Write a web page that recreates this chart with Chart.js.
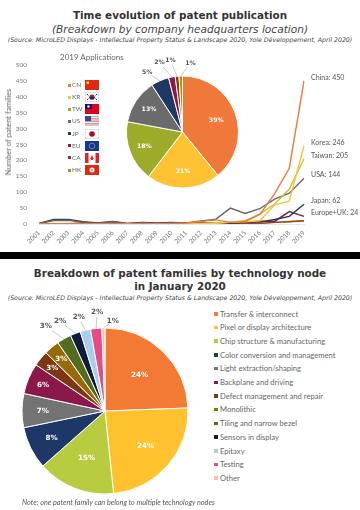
<!DOCTYPE html>
<html>
<head>
<meta charset="utf-8">
<title>Patent charts</title>
<script src="https://cdn.jsdelivr.net/npm/chart.js@4"></script>
<style>
html,body{margin:0;padding:0;background:#fff;}
#page{position:relative;width:360px;height:510px;overflow:hidden;font-family:Lato,sans-serif;color:#555;}
#page canvas{position:absolute;}
.t{position:absolute;left:0;width:360px;text-align:center;white-space:nowrap;font-family:"DejaVu Sans",sans-serif;line-height:14px;}
.main{font-weight:bold;font-size:10.4px;color:#333;}
.sub{font-style:italic;font-size:10.6px;color:#444;}
.src{font-style:italic;font-size:6.25px;color:#444;line-height:8px;}
#band{position:absolute;left:0;top:252px;width:360px;height:6.5px;background:#000;}
.lab{position:absolute;white-space:nowrap;line-height:10px;}
.dot{position:absolute;width:3px;height:3px;}
svg{position:absolute;}
#yTitle{position:absolute;left:8px;top:132px;transform:translate(-50%,-50%) rotate(-90deg);font-size:7.6px;color:#666;white-space:nowrap;}
</style>
</head>
<body>
<div id="page">
  <div class="t main" style="top:8px">Time evolution of patent publication</div>
  <div class="t sub" style="top:22px">(Breakdown by company headquarters location)</div>
  <div class="t src" style="top:36px">(Source: MicroLED Displays - Intellectual Property Status &amp; Landscape 2020, Yole Développement, April 2020)</div>
  <canvas id="lineas" style="left:0;top:50px"></canvas>
  <div id="yTitle">Number of patent families</div>
  <canvas id="pieFlags" style="left:112px;top:50px"></canvas>
  <div class="lab" style="left:60px;top:52px;font-size:8px;color:#666">2019 Applications</div>
  <div id="flagLegend"></div>
  <div id="band"></div>
  <div class="t main" style="top:266px">Breakdown of patent families by technology node</div>
  <div class="t main" style="top:279px">in January 2020</div>
  <div class="t src" style="top:294px">(Source: MicroLED Displays - Intellectual Property Status &amp; Landscape 2020, Yole Développement, April 2020)</div>
  <canvas id="pieNodes" style="left:0;top:305px"></canvas>
  <div id="nodeLegend"></div>
  <div class="lab" style="left:22px;top:498px;font-size:7.25px;font-style:italic;color:#555">Note: one patent family can belong to multiple technology nodes</div>
</div>
<script>
// datos del grafico de lineas
const years = ['2001','2002','2003','2004','2005','2006','2007','2008','2009','2010','2011','2012','2013','2014','2015','2016','2017','2018','2019'];
const china  = [0,1,1,1,0,1,0,1,0,1,3,8,13,5,8,30,95,175,450];
const korea  = [0,0,1,0,0,1,0,0,0,1,1,1,2,5,7,10,60,72,246];
const taiwan = [0,1,1,0,0,0,0,0,0,1,1,2,3,6,10,32,62,110,205];
const usa    = [1,11,12,5,2,7,1,4,2,4,3,10,15,50,33,48,78,97,144];
const japan  = [2,14,14,7,3,8,2,5,3,5,3,3,2,3,5,6,14,24,62];
const europe = [0,1,1,3,1,1,0,1,0,1,2,2,1,4,5,9,8,39,24];
const canada = [0,0,0,0,0,0,0,0,0,0,0,0,0,1,1,2,5,7,10];
const hongKong = [0,0,0,0,0,0,0,0,0,0,0,0,0,0,0,2,5,8,10];
const seriesNames = ['China','Korea','Taiwan','USA','Japan','Europe+UK','',''];
const yTicks = [0,50,100,150,200,250,300,350,400,450,500];

// pastel 2019
const countryCodes = ['CN','KR','TW','US','JP','EU','CA','HK'];
const shares2019 = [39.2,21.3,17.6,12.9,5.2,1.9,1.1,1.0];
const shareLabels = ['39%','21%','18%','13%','5%','2%','1%','1%'];

// pastel por nodo
const nodes = ['Transfer & interconnect','Pixel or display architecture','Chip structure & manufacturing','Color conversion and management','Light extraction/shaping','Backplane and driving','Defect management and repair','Monolithic','Tiling and narrow bezel','Sensors in display','Epitaxy','Testing','Other'];
const nodeShares = [24.4,23.9,15.1,8.3,6.6,6.0,3.0,3.0,2.8,2.0,2.0,2.2,0.6];
const nodeLabels = ['24%','24%','15%','8%','7%','6%','3%','3%','3%','2%','2%','2%','1%'];

const lineColors = ['#F0783A','#FFC233','#B5C93B','#666666','#1F3864','#8B1A4B','#A0451A','#BF8F00'];
const flagPieColors = ['#F0783A','#FFC233','#9CAB2A','#6B6B6B','#1F3864','#8B1A4B','#843C0C','#BF8F00'];
const nodeColors = ['#F27A35','#FFC12E','#B9CC3F','#1D3766','#737373','#8A1848','#7E3613','#966A0A','#556B1F','#111C3A','#A9CDEE','#E54B85','#F9C3A0'];

// sitio de cada etiqueta: [factor de radio] dentro, o [angulo, radio px] fuera con linea guia
const flagSpots = [[0.64],[0.7],[0.73],[0.72],[-30.7,69],[-18.4,73],[-9.5,73],[6.6,69.5]];
const nodeSpots = [[0.6],[0.65],[0.61],[0.72],[0.75],[0.81],[0.82],[0.82],[-35,103],[-26.6,100],[-15.6,97],[-4.6,99],[5,90]];

const allSeries = [china,korea,taiwan,usa,japan,europe,canada,hongKong];

const endLabels = {
  id:'endLabels',
  afterDatasetsDraw(chart){
    const ctx = chart.ctx;
    ctx.save();
    ctx.font = '7px Lato';
    ctx.fillStyle = '#555';
    ctx.textBaseline = 'middle';
    chart.data.datasets.forEach((ds,i)=>{
      if(!seriesNames[i]) return;
      const pt = chart.getDatasetMeta(i).data[years.length-1];
      ctx.fillText(seriesNames[i]+': '+ds.data[years.length-1], pt.x+7, pt.y-3.5);
    });
    ctx.restore();
  }
};

// etiquetas de los pasteles
const pieLabels = {
  id:'pieLabels',
  afterDatasetsDraw(chart,args,opts){
    const ctx = chart.ctx;
    ctx.save();
    ctx.font = 'bold '+opts.size+'px "DejaVu Sans"';
    ctx.textAlign = 'center';
    ctx.textBaseline = 'middle';
    chart.getDatasetMeta(0).data.forEach((arc,i)=>{
      const spot = opts.spots[i];
      const mid = (arc.startAngle+arc.endAngle)/2;
      if(spot.length===1){
        ctx.fillStyle = '#fff';
        ctx.fillText(opts.texts[i], arc.x+Math.cos(mid)*arc.outerRadius*spot[0], arc.y+Math.sin(mid)*arc.outerRadius*spot[0]);
      }else{
        const a = (spot[0]-90)*Math.PI/180;
        const lx = arc.x+Math.cos(a)*spot[1];
        const ly = arc.y+Math.sin(a)*spot[1];
        const sx = arc.x+Math.cos(mid)*arc.outerRadius;
        const sy = arc.y+Math.sin(mid)*arc.outerRadius;
        ctx.strokeStyle = '#bbb';
        ctx.lineWidth = 0.8;
        ctx.beginPath();
        ctx.moveTo(sx,sy);
        ctx.lineTo(lx+(sx-lx)*0.3,ly+(sy-ly)*0.3);
        ctx.stroke();
        ctx.fillStyle = '#555';
        ctx.fillText(opts.texts[i],lx,ly);
      }
    });
    ctx.restore();
  }
};

function makeCanvas(id,w,h){
  const c = document.getElementById(id);
  c.width = w; c.height = h;
  c.style.width = w+'px'; c.style.height = h+'px';
  return c;
}

Chart.defaults.animation = false;
Chart.defaults.responsive = false;

new Chart(makeCanvas('lineas',360,202),{
  type:'line',
  data:{
    labels:years,
    datasets:allSeries.map((vals,i)=>({
      data:vals,
      borderColor:lineColors[i],
      borderWidth:1.4,
      pointRadius:0,
      tension:0
    }))
  },
  options:{
    layout:{padding:{top:15,right:56,left:0,bottom:0}},
    plugins:{legend:{display:false},tooltip:{enabled:false}},
    scales:{
      x:{
        offset:false,
        grid:{display:false},
        border:{color:'#e6e6e6'},
        afterFit(s){s.height=28;},
        ticks:{font:{family:'Lato',size:6.5},color:'#777',minRotation:45,maxRotation:45,autoSkip:false,padding:-3}
      },
      y:{
        min:0,max:500,
        grid:{display:false},
        border:{display:false},
        afterFit(s){s.width=39;},
        afterBuildTicks(s){s.ticks=yTicks.map(v=>({value:v}));},
        ticks:{font:{family:'Lato',size:6.5},color:'#777',padding:4}
      }
    }
  },
  plugins:[endLabels]
});

new Chart(makeCanvas('pieFlags',141,164),{
  type:'pie',
  data:{
    labels:countryCodes,
    datasets:[{data:shares2019,backgroundColor:flagPieColors,borderColor:'#fff',borderWidth:1}]
  },
  options:{
    radius:56,
    layout:{padding:0},
    plugins:{legend:{display:false},tooltip:{enabled:false},pieLabels:{spots:flagSpots,texts:shareLabels,size:6.2}}
  },
  plugins:[pieLabels]
});

new Chart(makeCanvas('pieNodes',210,212),{
  type:'pie',
  data:{
    labels:nodes,
    datasets:[{data:nodeShares,backgroundColor:nodeColors,borderColor:'#fff',borderWidth:1}]
  },
  options:{
    radius:83,
    plugins:{legend:{display:false},tooltip:{enabled:false},pieLabels:{spots:nodeSpots,texts:nodeLabels,size:7.2}}
  },
  plugins:[pieLabels]
});

// leyenda de banderas
const flagArt = {
  CN:'<rect width="14" height="10" fill="#DE2910"/><rect x="1.5" y="1.5" width="2.5" height="2.5" fill="#FFDE00"/>',
  KR:'<rect width="14" height="10" fill="#fff" stroke="#999" stroke-width=".6"/><circle cx="7" cy="5" r="2.6" fill="#C60C30"/><path d="M4.4 5a2.6 2.6 0 0 0 5.2 0z" fill="#003478"/><path d="M2 2l1.4 1.4M12 2l-1.4 1.4M2 8l1.4-1.4M12 8l-1.4-1.4" stroke="#222"/>',
  TW:'<rect width="14" height="10" fill="#E60013"/><rect width="7" height="5" fill="#12127F"/><circle cx="3.5" cy="2.5" r="1.2" fill="#fff"/>',
  US:'<rect width="14" height="10" fill="#C9A0A4"/><path d="M0 1.5h14M0 4h14M0 6.5h14M0 9h14" stroke="#eee" stroke-width=".9"/><rect width="6" height="5" fill="#3C4A80"/>',
  JP:'<rect width="14" height="10" fill="#fff" stroke="#999" stroke-width=".6"/><circle cx="7" cy="5" r="2.8" fill="#BC002D"/>',
  EU:'<rect width="14" height="10" fill="#12379A"/><circle cx="7" cy="5" r="2.8" fill="none" stroke="#C9B84A" stroke-width=".6"/>',
  CA:'<rect width="14" height="10" fill="#fff"/><rect width="3.5" height="10" fill="#E0202A"/><rect x="10.5" width="3.5" height="10" fill="#E0202A"/><path d="M7 2l1.6 3.4-.8 1.6h-1.6l-.8-1.6z" fill="#E0202A"/>',
  HK:'<rect width="14" height="10" fill="#DE2910"/><circle cx="7" cy="5" r="2.5" fill="#fff"/><circle cx="7" cy="5" r=".8" fill="#DE2910"/>'
};
let flagHtml = '';
countryCodes.forEach((code,i)=>{
  const y = 85+i*12.15;
  flagHtml += `<div class="dot" style="left:68px;top:${y-1.5}px;background:${flagPieColors[i]}"></div>`;
  flagHtml += `<div class="lab" style="left:72px;top:${y-5}px;font-size:6.5px;color:#666">${code}</div>`;
  flagHtml += `<svg style="left:85px;top:${y-5}px" width="14" height="10" viewBox="0 0 14 10">${flagArt[code]}</svg>`;
});
document.getElementById('flagLegend').innerHTML = flagHtml;

// leyenda de nodos
let nodeHtml = '';
nodes.forEach((name,i)=>{
  const y = 313.5+i*13.7;
  nodeHtml += `<div class="dot" style="left:214px;top:${y-1.5}px;width:3.5px;height:3.5px;background:${nodeColors[i]}"></div>`;
  nodeHtml += `<div class="lab" style="left:220px;top:${y-5}px;font-size:7.6px;color:#666">${name.replace('&','&amp;')}</div>`;
});
document.getElementById('nodeLegend').innerHTML = nodeHtml;
</script>
</body>
</html>
